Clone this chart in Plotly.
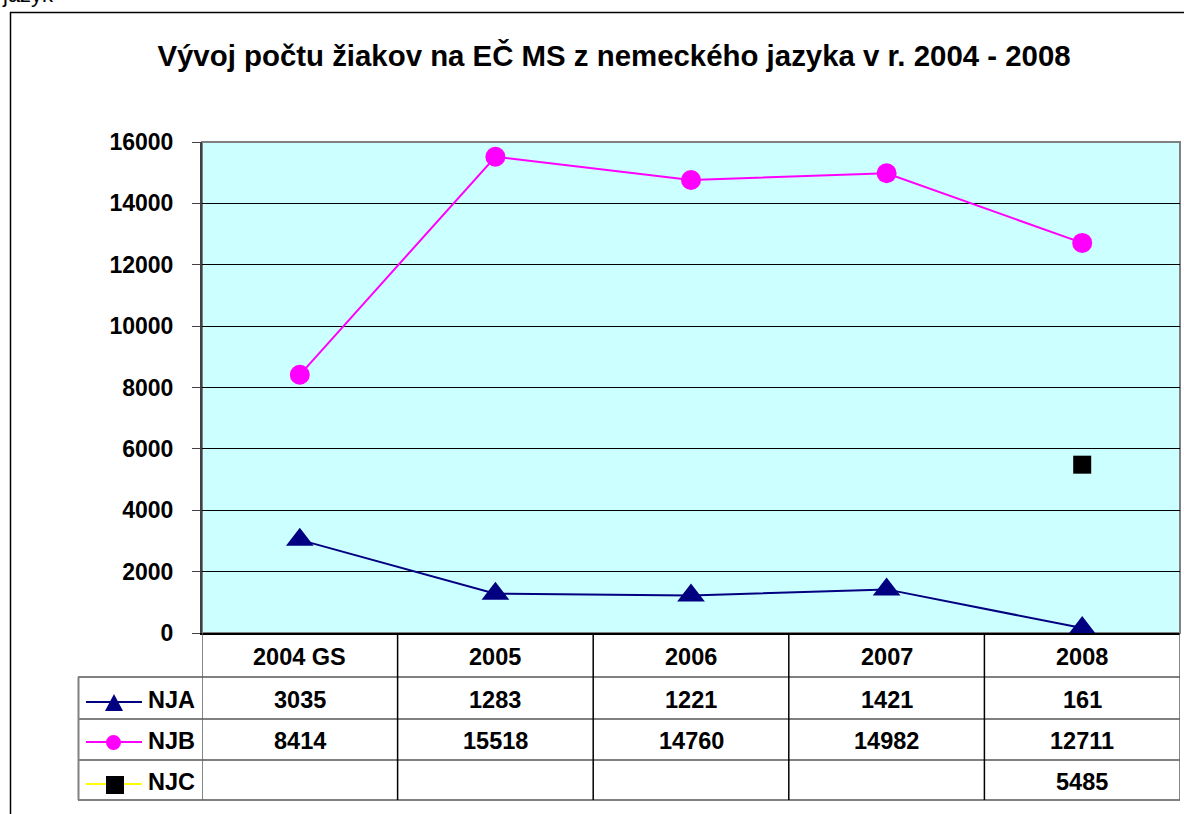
import plotly.graph_objects as go

categories = ["2004 GS", "2005", "2006", "2007", "2008"]
series_names = ["NJA", "NJB", "NJC"]
nja = [3035, 1283, 1221, 1421, 161]
njb = [8414, 15518, 14760, 14982, 12711]
njc = [None, None, None, None, 5485]
y_ticks = [0, 2000, 4000, 6000, 8000, 10000, 12000, 14000, 16000]

W, H = 1184, 814
L, R, T, B = 202, 4, 142, 181
PW, PH = W - L - R, H - T - B

def px(x):
    return (x - L) / PW

def py(y):
    return (H - B - y) / PH

FONT = "Liberation Sans, Arial, sans-serif"
NAVY = "#000080"
MAG = "#FF00FF"

fig = go.Figure()
xs = list(range(len(categories)))
fig.add_trace(go.Scatter(x=xs, y=nja, mode="lines+markers", name="NJA",
                         line=dict(color=NAVY, width=2),
                         marker=dict(symbol="triangle-up", size=24, color=NAVY)))
fig.add_trace(go.Scatter(x=xs, y=njb, mode="lines+markers", name="NJB",
                         line=dict(color=MAG, width=2),
                         marker=dict(symbol="circle", size=20, color=MAG)))
fig.add_trace(go.Scatter(x=xs, y=njc, mode="lines+markers", name="NJC",
                         line=dict(color="#FFFF00", width=2),
                         marker=dict(symbol="square", size=18, color="black")))

shapes = []
ann = []
# plot border (top/right gray)
shapes.append(dict(type="rect", xref="paper", yref="paper", x0=0, x1=1, y0=0, y1=1,
                   line=dict(color="#808080", width=2), layer="below"))
# outer frame
shapes.append(dict(type="line", xref="paper", yref="paper", x0=px(10.5), x1=px(10.5),
                   y0=py(12), y1=py(814), line=dict(color="black", width=1.5)))
shapes.append(dict(type="line", xref="paper", yref="paper", x0=px(10), x1=px(1184),
                   y0=py(12.5), y1=py(12.5), line=dict(color="black", width=1.5)))

# data table
row_lines = [677, 719, 760, 800]
for i, yl in enumerate(row_lines):
    shapes.append(dict(type="line", xref="paper", yref="paper", x0=px(78), x1=px(1180),
                       y0=py(yl), y1=py(yl), line=dict(color="#808080", width=2)))
shapes.append(dict(type="line", xref="paper", yref="paper", x0=px(78.5), x1=px(78.5),
                   y0=py(677), y1=py(800), line=dict(color="#808080", width=2)))
for i in range(len(categories) + 1):
    shapes.append(dict(type="line", xref="x", yref="paper", x0=i - 0.5, x1=i - 0.5,
                       y0=py(633), y1=py(800),
                       line=dict(color="black" if 0 < i < len(categories) else "#606060", width=1.5)))

cell_font = dict(family=FONT, size=23.5, color="black", weight="bold")
for i, c in enumerate(categories):
    ann.append(dict(x=i, y=py(657), xref="x", yref="paper", text=c, showarrow=False,
                    font=cell_font, xanchor="center", yanchor="middle"))
row_centers = [700, 741, 782]
for r, vals in enumerate([nja, njb, njc]):
    for i, v in enumerate(vals):
        if v is not None:
            ann.append(dict(x=i, y=py(row_centers[r]), xref="x", yref="paper", text=str(v),
                            showarrow=False, font=cell_font, xanchor="center", yanchor="middle"))
    ann.append(dict(x=px(146), y=py(row_centers[r]), xref="paper", yref="paper",
                    text=series_names[r], showarrow=False, font=cell_font,
                    xanchor="left", yanchor="middle"))

# legend keys in table
key_colors = [NAVY, MAG, "#FFFF00"]
key_y = [702, 742, 784]
for r, col in enumerate(key_colors):
    yc = key_y[r]
    shapes.append(dict(type="line", xref="paper", yref="paper", x0=px(86), x1=px(142),
                       y0=py(yc), y1=py(yc), line=dict(color=col, width=2)))
shapes.append(dict(type="path", xref="paper", yref="paper",
                   path=f"M {px(105)} {py(711)} L {px(123)} {py(711)} L {px(114)} {py(694)} Z",
                   fillcolor=NAVY, line=dict(color=NAVY, width=0)))
shapes.append(dict(type="circle", xref="paper", yref="paper",
                   x0=px(106), x1=px(121), y0=py(750), y1=py(735),
                   fillcolor=MAG, line=dict(color=MAG, width=0)))
shapes.append(dict(type="rect", xref="paper", yref="paper",
                   x0=px(106), x1=px(124), y0=py(794), y1=py(776),
                   fillcolor="black", line=dict(color="black", width=0)))

# cut-off text at top-left
ann.append(dict(x=px(0), y=py(9), xref="paper", yref="paper", text="jazyk", showarrow=False,
                font=dict(family=FONT, size=22, color="black"), xanchor="left", yanchor="bottom"))

fig.update_layout(
    width=W, height=H,
    margin=dict(l=L, r=R, t=T, b=B, pad=0),
    paper_bgcolor="white",
    plot_bgcolor="#CCFFFF",
    showlegend=False,
    title=dict(text="Vývoj počtu žiakov na EČ MS z nemeckého jazyka v r. 2004 - 2008",
               xref="container", x=614 / W, xanchor="center",
               yref="container", y=1 - 56 / H, yanchor="middle",
               font=dict(family=FONT, size=29.4, color="black", weight="bold")),
    xaxis=dict(range=[-0.5, len(categories) - 0.5], showticklabels=False, showgrid=False,
               zeroline=False, showline=True, linecolor="black", linewidth=2, ticks=""),
    yaxis=dict(range=[0, 16000], tickvals=y_ticks, ticktext=[str(v) for v in y_ticks],
               showgrid=True, gridcolor="black", gridwidth=1,
               zeroline=False, showline=True, linecolor="#404040", linewidth=2,
               ticks="outside", ticklen=8, tickcolor="#404040", tickwidth=1,
               ticklabelstandoff=14,
               tickfont=dict(family=FONT, size=23, color="black", weight="bold")),
    shapes=shapes,
    annotations=ann,
)

fig.write_html("out.html", config={"displayModeBar": False},
               post_script="document.body.style.margin='0';")
